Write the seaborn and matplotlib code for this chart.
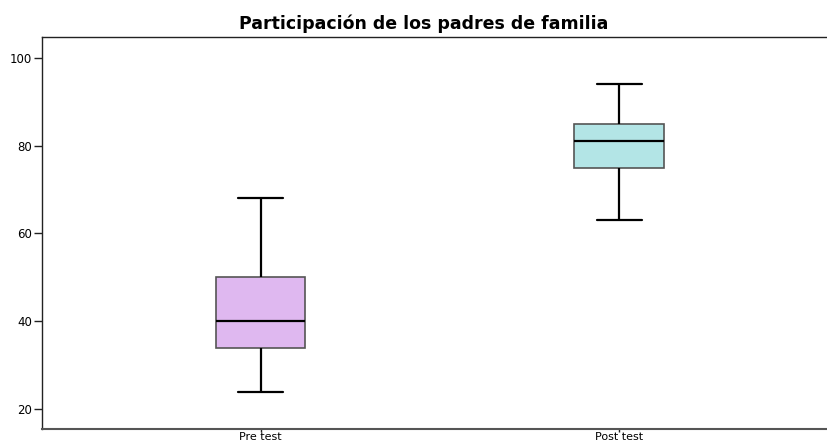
import matplotlib
matplotlib.use("Agg")
import matplotlib.pyplot as plt
import seaborn as sns
import pandas as pd

# values (min, Q1, median, Q3, max for each group)
categories = ["Pre test", "Post test"]
pre_test = [24, 34, 40, 50, 68]
post_test = [63, 75, 81, 85, 94]
box_colors = ["#dfb8f0", "#b3e5e6"]
y_ticks = [20, 40, 60, 80, 100]

df = pd.DataFrame({
    "grupo": [categories[0]] * len(pre_test) + [categories[1]] * len(post_test),
    "puntaje": pre_test + post_test,
})

sns.set_theme(style="white")
plt.rcParams["font.family"] = ["DejaVu Sans"]
plt.rcParams["text.color"] = "black"
plt.rcParams["xtick.color"] = "black"
plt.rcParams["ytick.color"] = "black"

fig = plt.figure(figsize=(8.27, 4.46), dpi=100)
ax = fig.add_axes([42 / 827, 1 - 429 / 446, 1 - 42 / 827, (429 - 37) / 446])

sns.boxplot(
    data=df, x="grupo", y="puntaje", hue="grupo", order=categories,
    palette=box_colors, saturation=1, legend=False, width=0.25, whis=1.5, ax=ax,
    boxprops={"edgecolor": "#555555", "linewidth": 1.2},
    whiskerprops={"color": "black", "linewidth": 1.6},
    capprops={"color": "black", "linewidth": 1.6},
    medianprops={"color": "black", "linewidth": 1.6},
)

ax.set_xlim(-0.61, 1.58)
ax.set_ylim(15.5, 104.7)
ax.set_yticks(y_ticks)
ax.set_xlabel("")
ax.set_ylabel("")
# title sits a bit left of the axes centre, as in the original
ax.set_title("Participación de los padres de familia", fontsize=12.5,
             fontweight="bold", pad=6, color="black", x=0.486)

for side in ["left", "top"]:
    ax.spines[side].set_color("#222222")
    ax.spines[side].set_linewidth(1)
ax.spines["bottom"].set_color("#555555")
ax.spines["bottom"].set_linewidth(1.5)
ax.spines["right"].set_visible(False)

ax.tick_params(axis="y", direction="out", length=6, width=1, color="#222222",
               labelsize=8.5, pad=1, left=True)
ax.tick_params(axis="x", direction="out", length=2.5, width=1, color="#222222",
               labelsize=8, pad=0, bottom=True)

fig.savefig("out.png", dpi=100)
